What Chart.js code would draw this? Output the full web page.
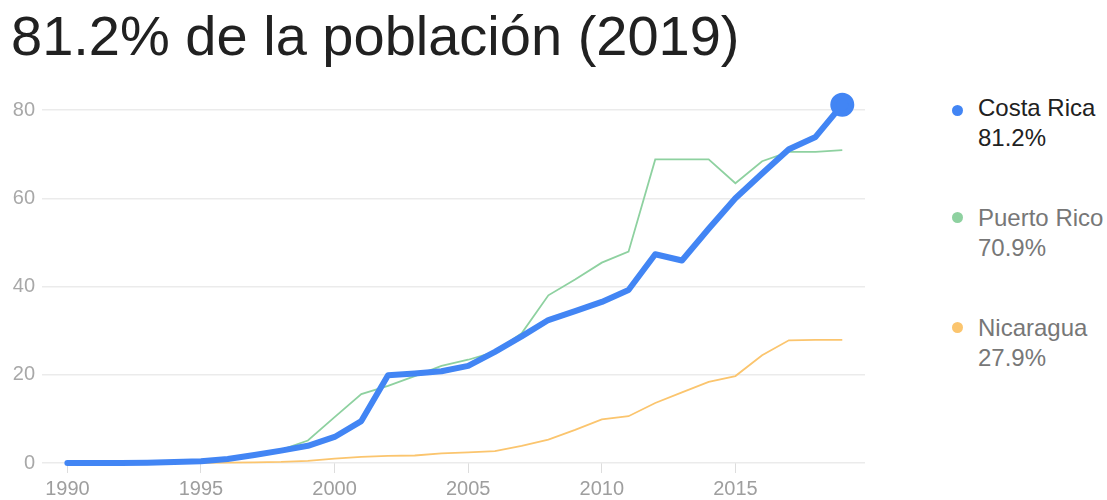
<!DOCTYPE html>
<html>
<head>
<meta charset="utf-8">
<script src="https://cdn.jsdelivr.net/npm/chart.js@4"></script>
<style>
html,body{margin:0;padding:0;background:#fff;overflow:hidden;width:1107px;height:500px;}
#title{position:absolute;left:11px;top:3px;font-family:"Liberation Sans",Arial,sans-serif;font-size:56px;color:#212121;white-space:nowrap;line-height:66px;}
#wrap{position:absolute;left:0;top:80px;width:880px;height:430px;}
.lg{position:absolute;left:978px;font-family:"Liberation Sans",Arial,sans-serif;font-size:24px;line-height:30px;white-space:nowrap;}
.dot{position:absolute;width:11px;height:11px;border-radius:50%;}
</style>
</head>
<body>
<div id="title">81.2% de la población (2019)</div>
<div id="wrap"><canvas id="c"></canvas></div>
<div id="legend"></div>
<script>
const years = [1990,1991,1992,1993,1994,1995,1996,1997,1998,1999,2000,2001,2002,2003,2004,2005,2006,2007,2008,2009,2010,2011,2012,2013,2014,2015,2016,2017,2018,2019];
const costaRica = [0,0,0,0.05,0.2,0.4,0.9,1.8,2.8,3.9,5.9,9.5,19.9,20.3,20.8,22.0,25.2,28.7,32.4,34.4,36.5,39.2,47.3,45.9,53.1,60.0,65.6,71.1,73.9,81.2];
const puertoRico = [0,0,0,0,0.05,0.3,0.8,1.8,3.0,5.1,10.4,15.6,17.5,19.7,22.0,23.4,25.2,29.4,38.0,41.6,45.4,47.9,68.8,68.8,68.8,63.4,68.4,70.5,70.5,70.9];
const nicaragua = [0,0,0,0,0,0.02,0.08,0.15,0.25,0.5,1.0,1.4,1.6,1.7,2.2,2.4,2.7,3.9,5.3,7.5,9.9,10.6,13.6,16.0,18.4,19.7,24.4,27.8,27.9,27.9];
const seriesNames = ["Costa Rica","Puerto Rico","Nicaragua"];
const seriesLabels = ["81.2%","70.9%","27.9%"];
const seriesColors = ["#4285f4","#8ed1a0","#fbc56e"];
const seriesText = ["#212121","#777777","#777777"];
const xTicks = [1990,1995,2000,2005,2010,2015];
const yTicks = [0,20,40,60,80];

function pts(arr){ return years.map((y,i)=>({x:y,y:arr[i]})); }

// legend
const lg = document.getElementById('legend');
const lgTop = [93,203,313];
const dotTop = [105,212,322];
seriesNames.forEach((n,i)=>{
  const d=document.createElement('div');d.className='lg';d.style.top=lgTop[i]+'px';d.style.color=seriesText[i];
  d.innerHTML=n+'<br>'+seriesLabels[i];lg.appendChild(d);
  const p=document.createElement('div');p.className='dot';p.style.left='952px';p.style.top=dotTop[i]+'px';p.style.background=seriesColors[i];lg.appendChild(p);
});

const tickFont = {family:'"Liberation Sans", Arial, sans-serif', size:20};
new Chart(document.getElementById('c'),{
  type:'line',
  data:{datasets:[
    {label:seriesNames[0],data:pts(costaRica),borderColor:seriesColors[0],backgroundColor:seriesColors[0],borderWidth:6,
     pointRadius:(ctx)=>ctx.dataIndex===years.length-1?9:0,pointHoverRadius:0,borderJoinStyle:'round',borderCapStyle:'round',clip:false,order:0},
    {label:seriesNames[1],data:pts(puertoRico),borderColor:seriesColors[1],borderWidth:1.8,pointRadius:0,clip:false,order:1},
    {label:seriesNames[2],data:pts(nicaragua),borderColor:seriesColors[2],borderWidth:1.8,pointRadius:0,clip:false,order:2}
  ]},
  options:{
    responsive:true,maintainAspectRatio:false,animation:false,
    layout:{padding:{top:30,right:14,left:0,bottom:0}},
    plugins:{legend:{display:false},tooltip:{enabled:false}},
    scales:{
      x:{type:'linear',min:1989.05,max:2019.85,
        afterBuildTicks:(s)=>{s.ticks=xTicks.map(v=>({value:v}));},
        afterFit:(s)=>{s.height=47;},
        border:{display:false},
        grid:{drawOnChartArea:false,drawTicks:true,tickLength:10,color:'#dddddd',lineWidth:1},
        ticks:{font:tickFont,color:'#9e9e9e',padding:4,maxRotation:0,callback:(v)=>String(v)}},
      y:{min:0,max:80,
        afterBuildTicks:(s)=>{s.ticks=yTicks.map(v=>({value:v}));},
        afterFit:(s)=>{s.width=42;},
        border:{display:false},
        grid:{drawTicks:false,color:'#ebebeb',lineWidth:1.5},
        ticks:{font:tickFont,color:'#a8a8a8',padding:7}}
    }
  }
});
</script>
</body>
</html>
